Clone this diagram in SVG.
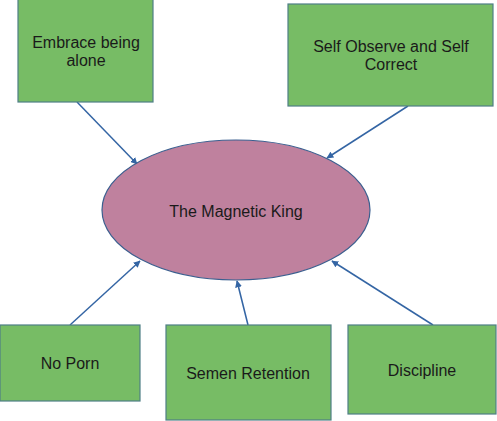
<svg xmlns="http://www.w3.org/2000/svg" width="497" height="421" viewBox="0 0 497 421">
<defs>
<style>
.box{fill:#77bc65;stroke:#4f7f86;stroke-width:1.2}
.ell{fill:#bf819e;stroke:#3b5f8f;stroke-width:1.2}
.t{font-family:"Liberation Sans",Arial,sans-serif;font-size:16px;fill:#1a1a1a;text-anchor:middle}
.c{stroke:#3465a4;stroke-width:1.5;fill:none;marker-end:url(#ah)}
</style>
<marker id="ah" viewBox="0 0 10 10" refX="9" refY="5" markerWidth="7" markerHeight="7" markerUnits="userSpaceOnUse" orient="auto">
<path d="M0,0 L10,5 L0,10 z" fill="#3465a4"/>
</marker>
</defs>
<rect width="497" height="421" fill="#ffffff"/>
<g id="connectors">
<line class="c" x1="77" y1="102" x2="137" y2="164"/>
<line class="c" x1="408" y1="106" x2="327" y2="158"/>
<line class="c" x1="70" y1="325" x2="140" y2="261"/>
<line class="c" x1="248" y1="325" x2="237" y2="281"/>
<line class="c" x1="433" y1="325" x2="332" y2="261"/>
</g>
<g id="center">
<ellipse class="ell" cx="236" cy="210" rx="134" ry="70"/>
<text class="t" x="236" y="217">The Magnetic King</text>
</g>
<g id="embrace">
<rect class="box" x="18" y="-1" width="135" height="103"/>
<text class="t" x="86" y="48">Embrace being</text>
<text class="t" x="86" y="66">alone</text>
</g>
<g id="selfobserve">
<rect class="box" x="288" y="4" width="205" height="102"/>
<text class="t" x="391" y="52">Self Observe and Self</text>
<text class="t" x="391" y="70">Correct</text>
</g>
<g id="noporn">
<rect class="box" x="0" y="325" width="140" height="76"/>
<text class="t" x="70" y="369">No Porn</text>
</g>
<g id="semen">
<rect class="box" x="166" y="325" width="165" height="95"/>
<text class="t" x="248" y="379">Semen Retention</text>
</g>
<g id="discipline">
<rect class="box" x="348" y="325" width="148" height="89"/>
<text class="t" x="422" y="376">Discipline</text>
</g>
</svg>
